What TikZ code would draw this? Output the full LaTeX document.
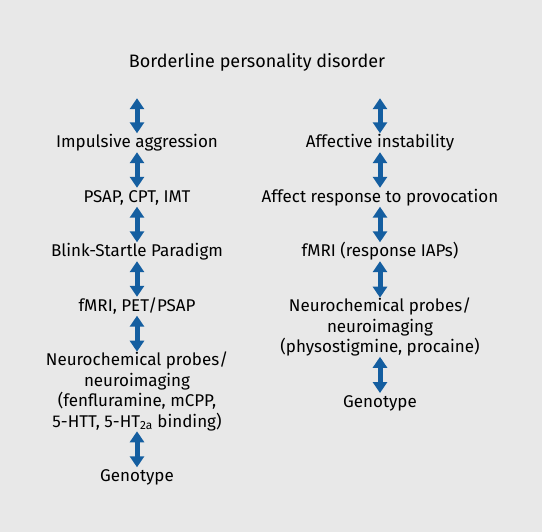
\documentclass[tikz,border=0pt]{standalone}
\usepackage{fontspec}
\setmainfont{Fira Sans}
\usetikzlibrary{arrows.meta, positioning}
\definecolor{bpdblue}{RGB}{20,94,160}
\definecolor{bpdgray}{RGB}{232,232,232}
\newcommand\lstrut{\rule[-4pt]{0pt}{18.5pt}}
\tikzstyle{arrow} = [line width=5pt, draw=bpdblue, {Triangle[width=14pt,length=11pt]}-{Triangle[width=14pt,length=11pt]}]
\tikzstyle{entry} = [inner sep=0pt, align=center, font=\fontsize{17}{20.5}\selectfont, execute at begin node=\lstrut, execute at end node=\lstrut]

\begin{document}
\begin{tikzpicture}[node distance=54.5pt]
\fill[bpdgray] (0,0) rectangle (542pt,-532pt);
% Placement of nodes
\node (title) [entry, font=\fontsize{18}{20.5}\selectfont] at (257pt,-62.75pt) {Borderline personality disorder};
\node (impAgg) [entry] at (137pt,-142.75pt) {Impulsive aggression};
\node (psap) [entry, below of=impAgg] {PSAP, CPT, IMT};
\node (blink) [entry, below of=psap] {Blink-Startle Paradigm};
\node (fmriPet) [entry, below of=blink] {fMRI, PET/PSAP};
\node (probesL) [entry, below of=fmriPet, node distance=85.25pt] {Neurochemical probes/\\ neuroimaging\\ (fenfluramine, mCPP,\\ 5-HTT, 5-HT\textsubscript{2a} binding)};
\node (genoL) [entry, below of=probesL, node distance=85.25pt] {Genotype};

% right column
\node (affInst) [entry, right of=impAgg, node distance=243pt] {Affective instability};
\node (provoc) [entry, below of=affInst] {Affect response to provocation};
\node (fmriIap) [entry, below of=provoc] {fMRI (response IAPs)};
\node (probesR) [entry, below of=fmriIap, node distance=75.5pt] {Neurochemical probes/\\ neuroimaging\\ (physostigmine, procaine)};
\node (genoR) [entry, below of=probesR, node distance=75.25pt] {Genotype};

% Placement of edges
\draw [arrow, shorten <=26pt] (title.south -| impAgg.north) -- (impAgg.north);
\draw [arrow] (impAgg) -- (psap);
\draw [arrow] (psap) -- (blink);
\draw [arrow] (blink) -- (fmriPet);
\draw [arrow] (fmriPet) -- (probesL);
\draw [arrow] (probesL) -- (genoL);

\draw [arrow, shorten <=26pt] (title.south -| affInst.north) -- (affInst.north);
\draw [arrow] (affInst) -- (provoc);
\draw [arrow] (provoc) -- (fmriIap);
\draw [arrow] (fmriIap) -- (probesR);
\draw [arrow] (probesR) -- (genoR);
\end{tikzpicture}
\end{document}
